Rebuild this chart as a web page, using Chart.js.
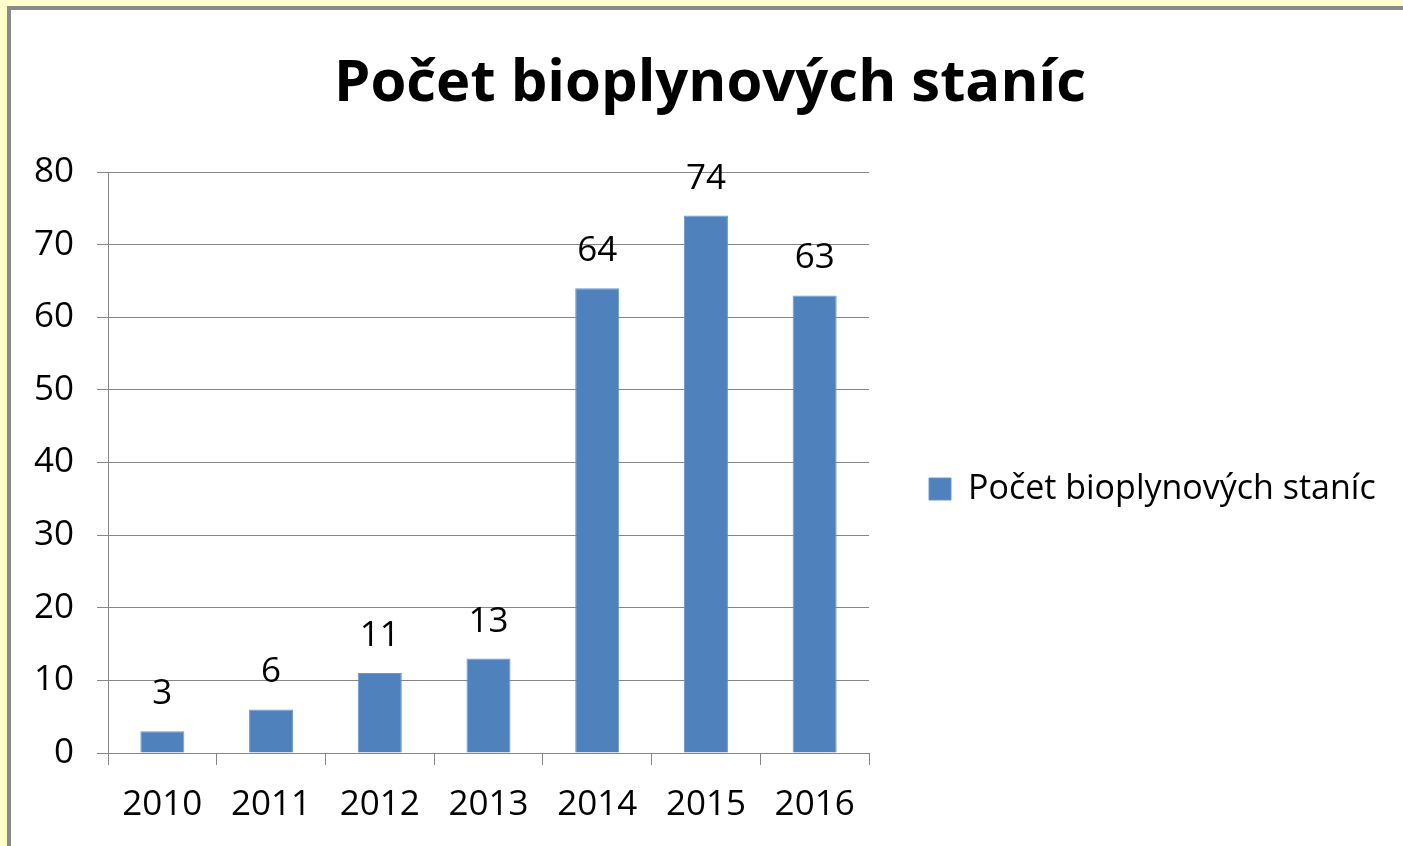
<!DOCTYPE html>
<html>
<head>
<meta charset="utf-8">
<script src="https://cdn.jsdelivr.net/npm/chart.js@4.4.1/dist/chart.umd.min.js"></script>
<style>
  html, body { margin:0; padding:0; width:1403px; height:846px; overflow:hidden; background:#FFFFCC; }
  #frame { position:absolute; left:7px; top:6px; width:1400px; height:850px; background:#fff; border-left:4px solid #8a8a8a; border-top:4px solid #8a8a8a; box-sizing:border-box; }
  #wrap { position:absolute; left:0; top:0; width:1403px; height:846px; }
</style>
</head>
<body>
<div id="frame"></div>
<div id="wrap"><canvas id="c" width="1403" height="846"></canvas></div>
<script>
const chartTitle = 'Počet bioplynových staníc';
const seriesName = 'Počet bioplynových staníc';
const categories = ['2010', '2011', '2012', '2013', '2014', '2015', '2016'];
const values = [3, 6, 11, 13, 64, 74, 63];
const yTicks = [0, 10, 20, 30, 40, 50, 60, 70, 80];

const FONT = '"Open Sans"';
const barColor = '#4F81BD';
const gridColor = '#868686';

const W = 1403;
const legendFontSize = 34;
const legendBox = 22;
const legendPad = 60;
const mctx = document.createElement('canvas').getContext('2d');
mctx.font = legendFontSize + 'px ' + FONT;
const tw = mctx.measureText(seriesName).width;
const legendWidth = legendPad + legendBox + legendFontSize / 2 + tw + 10;
const plotLeft = 108;
const plotRight = 869;
const titleCenter = 710;
const padRight = Math.max(0, W - plotRight - legendWidth);
const padLeft = Math.max(0, 2 * titleCenter - W + padRight);
const yAxisWidth = plotLeft - padLeft;

const dataLabels = {
  id: 'dataLabels',
  afterDatasetsDraw(chart) {
    const ctx = chart.ctx;
    const meta = chart.getDatasetMeta(0);
    ctx.save();
    ctx.font = '35px ' + FONT;
    ctx.fillStyle = '#000';
    ctx.textAlign = 'center';
    ctx.textBaseline = 'alphabetic';
    meta.data.forEach((bar, i) => {
      ctx.fillText(String(values[i]), bar.x, bar.y - 27);
    });
    ctx.restore();
  }
};

new Chart(document.getElementById('c'), {
  type: 'bar',
  data: {
    labels: categories,
    datasets: [{
      label: seriesName,
      data: values,
      backgroundColor: barColor,
      borderColor: '#6a97cc',
      borderWidth: 1,
      barPercentage: 0.405,
      categoryPercentage: 1.0
    }]
  },
  options: {
    responsive: false,
    animation: false,
    devicePixelRatio: 1,
    layout: { padding: { left: padLeft, right: padRight, top: 0, bottom: 0 } },
    plugins: {
      title: {
        display: true,
        text: chartTitle,
        color: '#000',
        font: { family: FONT, size: 58, weight: 'bold', lineHeight: 1.2 },
        padding: { top: 50, bottom: 52.4 }
      },
      legend: {
        display: true,
        position: 'right',
        maxWidth: 700,
        title: { display: true, text: ' ', font: { size: 10, lineHeight: 1.2 }, padding: { top: 60, bottom: 60 } },
        labels: {
          color: '#000',
          font: { family: FONT, size: legendFontSize },
          boxWidth: legendBox,
          boxHeight: legendBox,
          padding: legendPad
        }
      },
      tooltip: { enabled: false }
    },
    scales: {
      x: {
        offset: true,
        grid: { display: true, drawOnChartArea: false, drawTicks: true, tickLength: 12, offset: true, color: gridColor, lineWidth: 1 },
        border: { display: true, color: gridColor, width: 1 },
        ticks: { color: '#000', font: { family: FONT, size: 35 }, padding: 19, maxRotation: 0 },
        afterFit(scale) { scale.height = 93; }
      },
      y: {
        min: 0,
        max: 80,
        afterBuildTicks(scale) { scale.ticks = yTicks.map(v => ({ value: v })); },
        grid: { color: gridColor, lineWidth: 1, tickLength: 11, drawTicks: true },
        border: { display: true, color: gridColor, width: 1 },
        ticks: { color: '#000', font: { family: FONT, size: 35 }, padding: 23 },
        afterFit(scale) { scale.width = yAxisWidth; }
      }
    }
  },
  plugins: [dataLabels]
});
</script>
</body>
</html>
